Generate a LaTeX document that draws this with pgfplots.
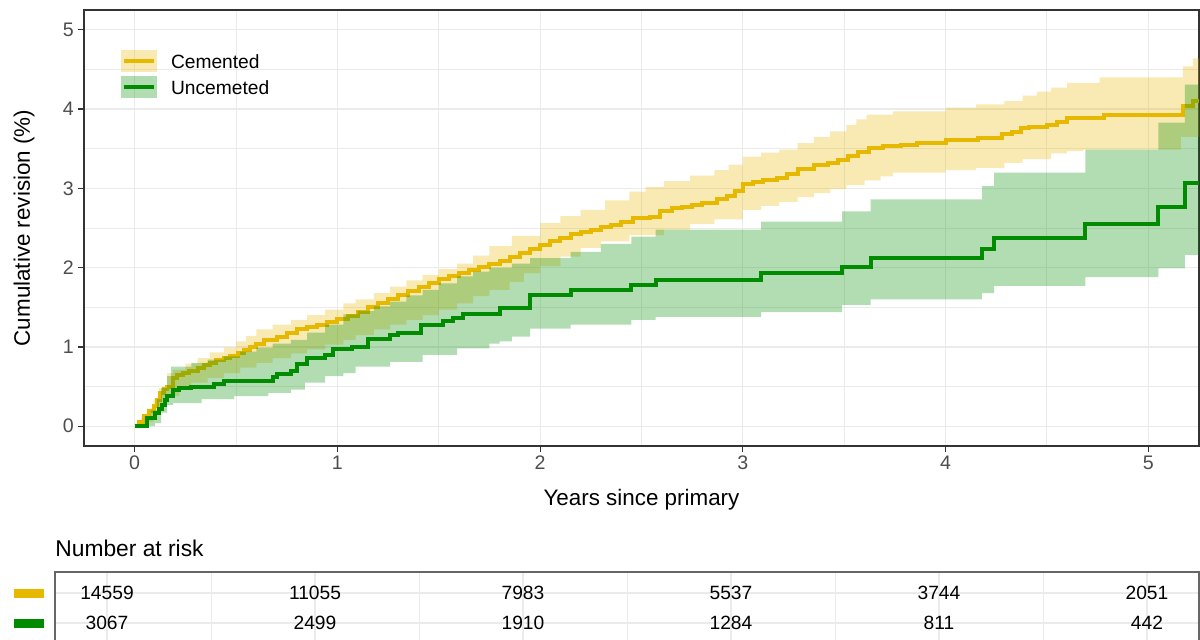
\documentclass[border=0pt]{standalone}
\usepackage{pgfplots}
\pgfplotsset{compat=1.18}
\usepgfplotslibrary{fillbetween}
\usepackage{pgfplotstable}
\usepackage{fontspec}
\setmainfont{Liberation Sans}
\definecolor{cyel}{HTML}{E7B800}
\definecolor{cgrn}{HTML}{008B00}
\definecolor{gridc}{HTML}{EBEBEB}
\definecolor{framec}{HTML}{333333}
\definecolor{tickc}{HTML}{4D4D4D}
\definecolor{tframe}{HTML}{666666}

% Cemented: estimate, upper and lower confidence limits
\pgfplotstableread{
x y
0 0
0.02 0.05
0.045 0.13
0.07 0.19
0.094 0.25
0.11 0.33
0.127 0.42
0.145 0.47
0.16 0.5
0.19 0.61
0.21 0.64
0.24 0.67
0.27 0.7
0.31 0.74
0.34 0.77
0.37 0.8
0.4 0.83
0.44 0.86
0.47 0.89
0.51 0.92
0.54 0.96
0.57 1.0
0.6 1.04
0.64 1.09
0.7 1.13
0.75 1.17
0.8 1.22
0.85 1.25
0.9 1.28
0.95 1.31
1.0 1.35
1.05 1.39
1.1 1.44
1.15 1.5
1.2 1.55
1.25 1.6
1.3 1.65
1.35 1.7
1.4 1.76
1.45 1.81
1.5 1.86
1.55 1.9
1.6 1.93
1.65 1.97
1.7 2.01
1.75 2.05
1.8 2.08
1.85 2.13
1.9 2.18
1.95 2.24
2.0 2.28
2.05 2.33
2.1 2.38
2.15 2.42
2.2 2.45
2.25 2.48
2.3 2.51
2.35 2.54
2.4 2.58
2.46 2.62
2.54 2.64
2.59 2.72
2.65 2.75
2.7 2.77
2.75 2.79
2.8 2.82
2.87 2.86
2.92 2.9
2.96 2.97
3.0 3.05
3.05 3.08
3.1 3.1
3.17 3.13
3.22 3.18
3.27 3.25
3.35 3.29
3.42 3.32
3.47 3.36
3.52 3.41
3.57 3.46
3.62 3.51
3.69 3.53
3.78 3.55
3.86 3.57
4.0 3.61
4.16 3.64
4.28 3.68
4.33 3.71
4.37 3.76
4.41 3.78
4.5 3.8
4.55 3.84
4.6 3.89
4.78 3.93
5.17 4.04
5.22 4.1
5.25 4.1
}\cemline

\pgfplotstableread{
x y
0 0
0.03 0.12
0.06 0.22
0.094 0.34
0.12 0.48
0.16 0.67
0.19 0.71
0.25 0.79
0.31 0.86
0.37 0.93
0.44 0.99
0.5 1.07
0.55 1.14
0.6 1.22
0.68 1.28
0.77 1.34
0.85 1.4
0.94 1.47
1.03 1.55
1.09 1.6
1.18 1.68
1.26 1.76
1.34 1.84
1.42 1.91
1.5 1.98
1.59 2.05
1.67 2.15
1.75 2.27
1.86 2.4
2.0 2.56
2.1 2.65
2.2 2.73
2.32 2.85
2.44 2.96
2.52 3.02
2.61 3.09
2.74 3.16
2.86 3.23
2.93 3.3
3.0 3.4
3.09 3.45
3.18 3.49
3.27 3.57
3.35 3.65
3.43 3.72
3.51 3.8
3.56 3.87
3.61 3.93
3.74 3.97
4.0 4.02
4.15 4.06
4.29 4.1
4.38 4.17
4.45 4.22
4.52 4.27
4.6 4.33
4.76 4.4
5.17 4.54
5.22 4.64
5.25 4.64
}\cemup

\pgfplotstableread{
x y
0 0
0.05 0.05
0.094 0.17
0.13 0.28
0.16 0.38
0.22 0.47
0.28 0.55
0.36 0.61
0.44 0.67
0.52 0.74
0.6 0.8
0.68 0.86
0.77 0.92
0.85 0.97
0.94 1.03
1.03 1.09
1.09 1.15
1.18 1.22
1.26 1.28
1.34 1.34
1.42 1.4
1.5 1.47
1.59 1.55
1.67 1.64
1.75 1.72
1.85 1.82
1.92 1.93
2.0 2.02
2.1 2.14
2.2 2.25
2.3 2.33
2.44 2.41
2.61 2.48
2.74 2.55
2.86 2.61
3.0 2.73
3.09 2.78
3.18 2.83
3.27 2.89
3.35 2.94
3.43 2.99
3.51 3.04
3.6 3.1
3.68 3.15
3.74 3.2
4.0 3.23
4.15 3.26
4.29 3.32
4.38 3.37
4.52 3.44
4.6 3.47
4.68 3.49
5.16 3.65
5.25 3.65
}\cemlo

% Uncemented: estimate, upper and lower confidence limits
\pgfplotstableread{
x y
0 0
0.06 0.1
0.1 0.17
0.12 0.22
0.135 0.27
0.15 0.33
0.16 0.38
0.19 0.46
0.22 0.48
0.28 0.5
0.39 0.53
0.44 0.57
0.68 0.62
0.7 0.66
0.77 0.7
0.8 0.78
0.85 0.86
0.94 0.9
0.98 0.97
1.07 1.0
1.15 1.1
1.26 1.15
1.3 1.17
1.41 1.28
1.52 1.33
1.57 1.36
1.62 1.42
1.8 1.49
1.95 1.65
2.15 1.72
2.45 1.78
2.57 1.84
3.09 1.93
3.49 2.01
3.63 2.12
4.18 2.24
4.24 2.37
4.69 2.55
5.05 2.76
5.18 3.07
5.25 3.07
}\uncline

\pgfplotstableread{
x y
0 0
0.05 0.1
0.08 0.2
0.11 0.34
0.13 0.48
0.16 0.63
0.18 0.75
0.28 0.8
0.36 0.84
0.44 0.88
0.52 0.94
0.6 0.99
0.68 1.04
0.77 1.09
0.85 1.18
0.94 1.28
1.03 1.41
1.1 1.45
1.18 1.51
1.26 1.57
1.34 1.65
1.42 1.72
1.5 1.8
1.59 1.89
1.67 1.95
1.75 2.0
1.86 2.05
1.95 2.12
2.15 2.2
2.3 2.3
2.45 2.39
2.57 2.48
3.09 2.58
3.49 2.71
3.63 2.86
4.18 3.03
4.24 3.2
4.69 3.49
5.05 3.83
5.18 4.31
5.25 4.31
}\uncup

\pgfplotstableread{
x y
0 0
0.1 0.04
0.13 0.17
0.16 0.27
0.19 0.29
0.33 0.34
0.49 0.38
0.66 0.42
0.77 0.46
0.84 0.55
0.94 0.63
1.03 0.67
1.09 0.75
1.26 0.81
1.42 0.9
1.59 0.98
1.75 1.04
1.8 1.07
1.86 1.13
1.95 1.23
2.15 1.28
2.45 1.34
2.57 1.38
3.09 1.44
3.49 1.53
3.63 1.6
4.18 1.68
4.24 1.77
4.69 1.88
5.05 1.99
5.18 2.16
5.25 2.16
}\unclo

\begin{document}
\begin{tikzpicture}
\begin{axis}[
  set layers,
  at={(42pt,96.5pt)}, anchor=south west,
  scale only axis, width=557.5pt, height=218pt,
  xmin=-0.25, xmax=5.25, ymin=-0.25, ymax=5.25,
  xtick={0,1,2,3,4,5}, ytick={0,1,2,3,4,5},
  minor x tick num=1, minor y tick num=1,
  grid=both,
  major grid style={gridc, line width=0.6pt},
  minor grid style={gridc, line width=0.5pt},
  tick align=outside, major tick length=2.75pt, minor tick length=0pt,
  xtick pos=bottom, ytick pos=left,
  tick style={framec, line width=0.6pt},
  axis line style={framec, line width=0.6pt},
  /pgf/number format/assume math mode=true,
  tick label style={font=\fontsize{9.8}{11}\selectfont, text=tickc, inner sep=0pt},
  xticklabel style={yshift=-2.2pt},
  yticklabel style={xshift=-2.2pt},
  xlabel={Years since primary},
  ylabel={Cumulative revision (\%)},
  label style={font=\fontsize{11.2}{13}\selectfont, text=black, inner sep=0pt},
  xlabel style={at={(axis description cs:0.5,-0.1376)}, anchor=base},
  ylabel style={at={(axis description cs:-0.0538,0.5)}, anchor=center},
  legend style={at={(0.0332,0.9083)}, anchor=north west, draw=none, fill=none,
    inner sep=0pt, outer sep=0pt, row sep=2pt, column sep=7pt,
    font=\fontsize{9.6}{11}\selectfont, nodes={inner sep=0pt}},
  legend cell align=left,
  legend image code/.code={
    \fill[fill opacity=0.3, draw=none] (0pt,-4.6pt) rectangle (18pt,6.4pt);
    \draw[line width=1.9pt, fill=none] (1.5pt,0.9pt) -- (16.5pt,0.9pt);
  },
]
\addlegendimage{color=cyel}
\addlegendentry{Cemented}
\addlegendimage{color=cgrn}
\addlegendentry{Uncemeted}

\addplot[const plot, draw=none, name path=cu, forget plot] table[x=x,y=y] {\cemup};
\addplot[const plot, draw=none, name path=cl, forget plot] table[x=x,y=y] {\cemlo};
\addplot[fill=cyel, fill opacity=0.3, draw=none, forget plot] fill between[of=cu and cl];
\addplot[const plot, cyel, line width=2pt, forget plot, on layer=pre main] table[x=x,y=y] {\cemline};
\addplot[const plot, draw=none, name path=gu, forget plot] table[x=x,y=y] {\uncup};
\addplot[const plot, draw=none, name path=gl, forget plot] table[x=x,y=y] {\unclo};
\addplot[fill=cgrn, fill opacity=0.3, draw=none, forget plot] fill between[of=gu and gl];
\addplot[const plot, cgrn, line width=2pt, forget plot] table[x=x,y=y] {\uncline};
\end{axis}

\begin{axis}[
  at={(27.5pt,-10pt)}, anchor=south west,
  scale only axis, width=572pt, height=43.5pt,
  xmin=-0.25, xmax=5.25, ymin=-0.2, ymax=2.7,
  xtick={0,1,2,3,4,5}, xticklabel=\empty,
  minor x tick num=1,
  ytick={1,2},
  yticklabels={{\textcolor{cgrn}{\rule{15pt}{4.5pt}}},{\textcolor{cyel}{\rule{15pt}{4.5pt}}}},
  yticklabel style={inner sep=0pt, xshift=-5.5pt},
  grid=both,
  major grid style={gridc, line width=0.6pt},
  minor grid style={gridc, line width=0.5pt},
  major tick length=0pt, minor tick length=0pt,
  axis line style={tframe, line width=0.85pt},
  title={Number at risk},
  title style={at={(axis description cs:0,1)}, anchor=base west, yshift=1.8pt,
    inner sep=0pt, font=\fontsize{11.4}{13}\selectfont},
]
\addplot[draw=none, mark=none, nodes near coords, point meta=explicit symbolic,
  nodes near coords style={anchor=center, inner sep=0pt, text=black,
    font=\fontsize{9.6}{11}\selectfont}]
  coordinates {(0,2)[14559] (1,2)[11055] (2,2)[7983] (3,2)[5537] (4,2)[3744] (5,2)[2051]};
\addplot[draw=none, mark=none, nodes near coords, point meta=explicit symbolic,
  nodes near coords style={anchor=center, inner sep=0pt, text=black,
    font=\fontsize{9.6}{11}\selectfont}]
  coordinates {(0,1)[3067] (1,1)[2499] (2,1)[1910] (3,1)[1284] (4,1)[811] (5,1)[442]};
\end{axis}
\pgfresetboundingbox
\path[use as bounding box] (0,0) rectangle (600pt,319.5pt);
\end{tikzpicture}
\end{document}
